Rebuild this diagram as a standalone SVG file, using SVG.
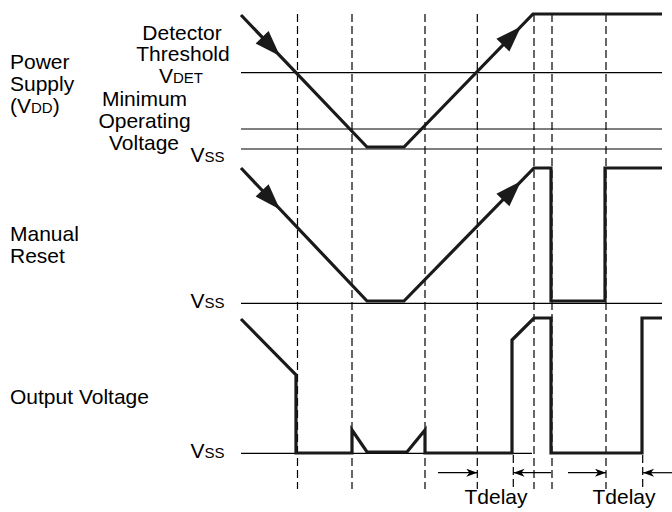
<svg xmlns="http://www.w3.org/2000/svg" width="672" height="512" viewBox="0 0 672 512">
<style>
text{font-family:"Liberation Sans",Arial,sans-serif;font-size:21px;fill:#000}
.s{font-size:15px}
.m{text-anchor:middle}
.thin{stroke:#000;stroke-width:1.2;fill:none}
.dash{stroke:#000;stroke-width:1.2;fill:none;stroke-dasharray:8 4}
.trace{stroke:#1a1a1a;stroke-width:3.2;fill:none;stroke-linejoin:miter}
.head{fill:#1a1a1a}
.dim{stroke:#000;stroke-width:1.2;fill:none;marker-end:url(#ah)}
</style>
<defs>
<marker id="ah" markerUnits="userSpaceOnUse" markerWidth="12" markerHeight="10" refX="11" refY="4" orient="auto">
<path d="M0,0 L11,4 L0,8 L3,4 Z" fill="#000"/>
</marker>
</defs>
<rect width="672" height="512" fill="#fff"/>
<g id="labels">
<text x="10" y="69">Power</text>
<text x="10" y="91">Supply</text>
<text x="10" y="113">(V<tspan class="s">DD</tspan>)</text>
<text class="m" x="182" y="40">Detector</text>
<text class="m" x="183" y="61">Threshold</text>
<text class="m" x="181" y="82.5">V<tspan class="s">DET</tspan></text>
<text class="m" x="144.5" y="106">Minimum</text>
<text class="m" x="144.5" y="128">Operating</text>
<text class="m" x="144" y="150">Voltage</text>
<text x="190.5" y="161.5">V<tspan class="s">SS</tspan></text>
<text x="10" y="241">Manual</text>
<text x="10" y="262.5">Reset</text>
<text x="190.5" y="307.5">V<tspan class="s">SS</tspan></text>
<text x="10" y="404">Output Voltage</text>
<text x="190.5" y="457.5">V<tspan class="s">SS</tspan></text>
<text class="m" x="496" y="504">Tdelay</text>
<text class="m" x="624" y="504">Tdelay</text>
</g>
<g id="levels">
<line class="thin" x1="241" y1="72.7" x2="662" y2="72.7"/>
<line class="thin" x1="241" y1="129" x2="662" y2="129"/>
<line class="thin" x1="241" y1="149" x2="662" y2="149"/>
<line class="thin" x1="241" y1="303.3" x2="662" y2="303.3"/>
<line class="thin" x1="241" y1="453.3" x2="532" y2="453.3"/>
</g>
<g id="timing-marks">
<line class="dash" x1="297.5" y1="14" x2="297.5" y2="489"/>
<line class="dash" x1="352" y1="14" x2="352" y2="489"/>
<line class="dash" x1="425" y1="14" x2="425" y2="489"/>
<line class="dash" x1="477.3" y1="14" x2="477.3" y2="489"/>
<line class="dash" x1="534" y1="14" x2="534" y2="489"/>
<line class="dash" x1="552" y1="14" x2="552" y2="489"/>
<line class="dash" x1="606" y1="14" x2="606" y2="489"/>
<line class="dash" x1="513.3" y1="455" x2="513.3" y2="489"/>
<line class="dash" x1="642.7" y1="455" x2="642.7" y2="489"/>
</g>
<g id="traces">
<polyline class="trace" points="241,15 367,147 404,147 533,14 662,14"/>
<polygon class="head" points="280,56 255.6,43.4 268.6,31"/>
<polygon class="head" points="521,26.4 509.4,51.4 496.4,38.8"/>
<polyline class="trace" points="241,168 367,301 404,301 534,168 551,168 551,301 605,301 605,168 662,168"/>
<polygon class="head" points="280,209.5 255.6,196.6 268.6,184.2"/>
<polygon class="head" points="521,181.3 509.4,206.3 496.4,193.7"/>
<polyline class="trace" points="241,319 296,375 296,453 352,453 352,430 367,452 407,452 425,430 425,453 512,453 512,340 534,318 551,318 551,453 642,453 642,318 662,318"/>
</g>
<g id="connectors">
<line class="dim" x1="438" y1="472.7" x2="477.3" y2="472.7"/>
<line class="dim" x1="551" y1="472.7" x2="513.5" y2="472.7"/>
<line class="dim" x1="568" y1="472.7" x2="606" y2="472.7"/>
<line class="dim" x1="672" y1="472.7" x2="643" y2="472.7"/>
</g>
</svg>
